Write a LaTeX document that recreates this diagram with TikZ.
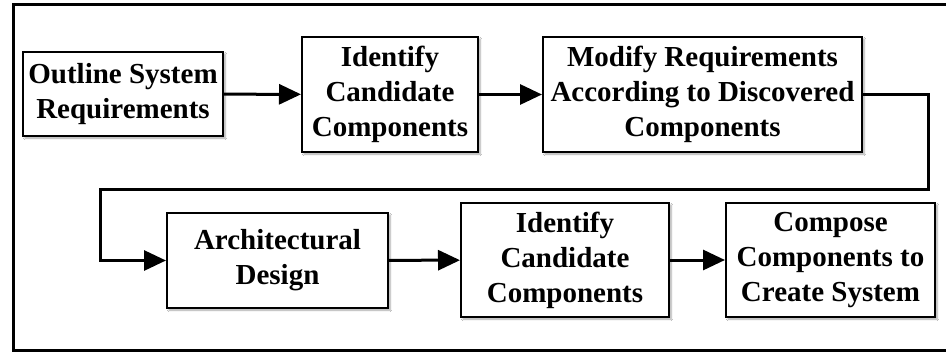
\documentclass[tikz,border=0pt]{standalone}
\usepackage{fontspec}
\setmainfont{Liberation Serif}
\usetikzlibrary{arrows.meta,shadows.blur}
\begin{document}
\begin{tikzpicture}[x=1pt,y=-1pt,
  stepbox/.style={draw=black,line width=2pt,fill=white,align=center,
    font=\fontsize{29}{35}\selectfont\bfseries,inner sep=0pt,
    blur shadow={shadow xshift=2pt,shadow yshift=-2pt,shadow blur steps=6,shadow opacity=35}},
  flow/.style={line width=3pt,-{Triangle[length=22pt,width=20pt]}}]
\useasboundingbox (0,0) rectangle (946,353);
\fill[white] (0,0) rectangle (946,353);
\draw[line width=3pt] (948,5) -- (13,5) -- (13,350) -- (948,350);
\node[stepbox,minimum width=200pt,minimum height=84pt] (b1) at (123,94) {Outline System\\Requirements};
\node[stepbox,minimum width=176pt,minimum height=115pt] (b2) at (390,94.5) {Identify\\Candidate\\Components};
\node[stepbox,minimum width=319pt,minimum height=115pt] (b3) at (702.5,94.5) {Modify Requirements\\According to Discovered\\Components};
\node[stepbox,minimum width=221pt,minimum height=95pt] (b4) at (277.5,260.5) {Architectural\\Design};
\node[stepbox,minimum width=208pt,minimum height=114pt] (b5) at (565,260) {Identify\\Candidate\\Components};
\node[stepbox,minimum width=209pt,minimum height=114pt] (b6) at (830.5,260) {Compose\\Components to\\Create System};
\coordinate (c1) at (928,189);
\coordinate (c2) at (100,189);
\draw[flow] (b1) -- (b2);
\draw[flow] (b2) -- (b3);
\draw[flow] (b3.east) -| (c1) -- (c2) |- (b4.west);
\draw[flow] (b4) -- (b5);
\draw[flow] (b5) -- (b6);
\end{tikzpicture}
\end{document}
